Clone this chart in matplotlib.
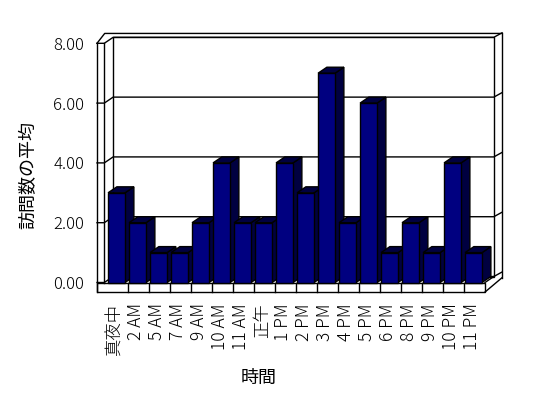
import matplotlib
matplotlib.use('Agg')
import matplotlib.pyplot as plt
from matplotlib.patches import Polygon, Rectangle

plt.rcParams['font.family'] = ['Noto Sans CJK JP', 'DejaVu Sans']
plt.rcParams['font.weight'] = 'light'

# data
hours = ['真夜中', '2 AM', '5 AM', '7 AM', '9 AM', '10 AM', '11 AM', '正午',
         '1 PM', '2 PM', '3 PM', '4 PM', '5 PM', '6 PM', '8 PM', '9 PM',
         '10 PM', '11 PM']
visits = [3, 2, 1, 1, 2, 4, 2, 2, 4, 3, 7, 2, 6, 1, 2, 1, 4, 1]
yticks = [0, 2, 4, 6, 8]
ytick_labels = ['0.00', '2.00', '4.00', '6.00', '8.00']

front = '#000080'
shade = '#000040'

fig = plt.figure(figsize=(5.48, 3.98), dpi=100)
ax = fig.add_axes([107 / 548, 115.5 / 398, 378 / 548, 239.2 / 398])
n = len(hours)
ax.set_xlim(0, n)
ax.set_ylim(0, 8)
for s in ax.spines.values():
    s.set_visible(False)
ax.patch.set_visible(False)

# depth of the fake 3d box (data units)
dx, dy = 0.42, 0.2
wl_out, wl_in = -0.476, -0.129   # left wall x positions
fl_bot = -0.32                   # bottom of floor slab
rb_x, top_y = 18.81, 8.33        # outer edge of back wall slab

kw = dict(color='black', lw=1, clip_on=False, zorder=2)

# back wall face
ax.add_patch(Rectangle((wl_in + dx, dy), n - wl_in, 8, facecolor='white',
                       edgecolor='black', lw=1, clip_on=False, zorder=1))
# floor front face
ax.add_patch(Rectangle((wl_out, fl_bot), n - wl_out, -fl_bot, facecolor='white',
                       edgecolor='black', lw=1, clip_on=False, zorder=2))
for i in range(1, n):
    ax.plot([i, i], [fl_bot, 0], **kw)

# left wall
ax.plot([wl_out, wl_out], [fl_bot, 8], **kw)
ax.plot([wl_in, wl_in], [0, 8], **kw)
ax.plot([wl_out, -0.11, rb_x], [8, top_y, top_y], **kw)
# right edge of back wall slab
ax.plot([rb_x, rb_x], [0.16, top_y], **kw)
ax.plot([n, rb_x], [fl_bot, 0.16], **kw)
ax.plot([n, n + dx], [0, dy], **kw)

# grid levels across walls
for t in yticks:
    ax.plot([wl_out, wl_in, wl_in + dx, n + dx, rb_x],
            [t, t, t + dy, t + dy, t + dy + 0.15], **kw)

# bars with side and top faces
w = 0.81
for i, v in enumerate(visits):
    x0 = i + 0.05
    x1 = x0 + w
    z = 3 + i
    ax.add_patch(Polygon([(x1, 0), (x1 + dx, dy), (x1 + dx, v + dy), (x1, v)],
                         closed=True, facecolor=shade, edgecolor='black',
                         lw=1, clip_on=False, zorder=z))
    ax.add_patch(Polygon([(x0, v), (x0 + dx, v + dy), (x1 + dx, v + dy), (x1, v)],
                         closed=True, facecolor=shade, edgecolor='black',
                         lw=1, clip_on=False, zorder=z))
    ax.bar(x0, v, width=w, align='edge', color=front, edgecolor='black',
           lw=1, clip_on=False, zorder=z + 0.5)

ax.set_yticks(yticks)
ax.set_yticklabels(ytick_labels, fontsize=12)
ax.tick_params(axis='y', length=0, pad=16.5)
ax.set_xticks([i + 0.36 for i in range(n)])
ax.set_xticklabels(hours, rotation=90, fontsize=12.5)
ax.tick_params(axis='x', length=0, pad=15)

ax.set_ylabel('訪問数の平均', fontsize=13)
ax.yaxis.set_label_coords(-0.185, 0.449)
ax.set_xlabel('時間', fontsize=13)
ax.xaxis.set_label_coords(0.40, -0.36)

fig.savefig('out.png', dpi=100, facecolor='white')
